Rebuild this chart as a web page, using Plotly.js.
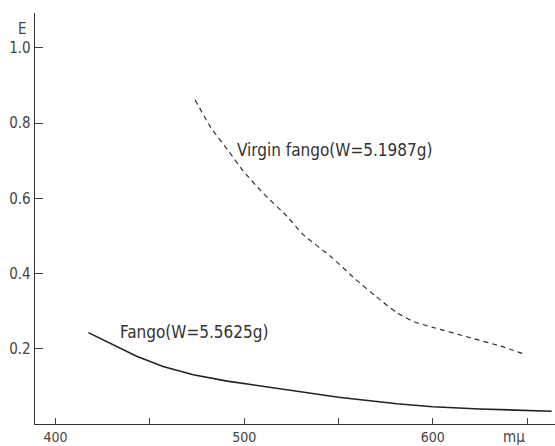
<!DOCTYPE html>
<html>
<head>
<meta charset="utf-8">
<script src="https://cdn.plot.ly/plotly-3.0.1.min.js"></script>
<style>html,body{margin:0;padding:0;background:#fff;}#chart{width:555px;height:446px;}</style>
</head>
<body>
<div id="chart"></div>
<script>
var fangoX = [417.4, 430.6, 443, 457, 473, 491, 507.5, 530, 550, 581, 600, 625, 650, 663];
var fangoY = [0.243, 0.211, 0.180, 0.153, 0.131, 0.114, 0.102, 0.085, 0.071, 0.054, 0.046, 0.040, 0.035, 0.034];
var virginX = [474, 482, 492, 499, 510, 523, 531, 546, 559, 570, 581, 590, 600, 618, 636, 649];
var virginY = [0.862, 0.791, 0.724, 0.676, 0.614, 0.551, 0.505, 0.445, 0.385, 0.339, 0.296, 0.272, 0.257, 0.232, 0.207, 0.185];
var xTickVals = [400, 450, 500, 550, 600, 650];
var xTickText = ["400", "", "500", "", "600", ""];
var xUnitLabel = "mμ";
var yTickVals = [0.2, 0.4, 0.6, 0.8, 1.0];
var yTickText = ["0.2", "0.4", "0.6", "0.8", "1.0"];
var fangoLabel = "Fango(W=5.5625g)";
var virginLabel = "Virgin fango(W=5.1987g)";
var yAxisLabel = "E";

var font = "DejaVu Sans Condensed, DejaVu Sans, sans-serif";

var traces = [
  {x: fangoX, y: fangoY, mode: "lines", line: {color: "#222", width: 1.6, shape: "linear"}, hoverinfo: "skip"},
  {x: virginX, y: virginY, mode: "lines", line: {color: "#333", width: 1.2, dash: "5px,4px", shape: "spline", smoothing: 0.6}, hoverinfo: "skip"}
];

var layout = {
  width: 555, height: 446,
  margin: {l: 35, r: 0, t: 13, b: 22},
  paper_bgcolor: "#fff", plot_bgcolor: "#fff",
  showlegend: false,
  font: {family: font, color: "#444", size: 15},
  xaxis: {
    range: [389.1, 664.8], showgrid: false, zeroline: false,
    showline: true, linecolor: "#333", linewidth: 1.3,
    ticks: "inside", ticklen: 6, tickcolor: "#444", tickwidth: 1,
    tickmode: "array", tickvals: xTickVals, ticktext: xTickText,
    tickfont: {family: font, size: 14, color: "#444"}
  },
  yaxis: {
    range: [0, 1.093], showgrid: false, zeroline: false,
    showline: true, linecolor: "#333", linewidth: 1.3,
    ticks: "inside", ticklen: 8, tickcolor: "#444", tickwidth: 1,
    tickmode: "array", tickvals: yTickVals, ticktext: yTickText,
    tickfont: {family: font, size: 15, color: "#444"}
  },
  annotations: [
    {x: 495.2, y: 0.729, xref: "x", yref: "y", text: virginLabel, showarrow: false, xanchor: "left", yanchor: "middle", font: {family: font, size: 17, color: "#333"}},
    {x: 433, y: 0.244, xref: "x", yref: "y", text: fangoLabel, showarrow: false, xanchor: "left", yanchor: "middle", font: {family: font, size: 17, color: "#333"}},
    {x: 0, y: 1.05, xref: "paper", yref: "y", text: yAxisLabel, showarrow: false, xanchor: "right", yanchor: "middle", xshift: -6, font: {family: font, size: 15, color: "#444"}},
    {x: 643, y: 0, xref: "x", yref: "y", text: xUnitLabel, showarrow: false, xanchor: "center", yanchor: "top", yshift: -2, font: {family: font, size: 15, color: "#444"}}
  ]
};

Plotly.newPlot("chart", traces, layout, {staticPlot: true, displayModeBar: false});
</script>
</body>
</html>
